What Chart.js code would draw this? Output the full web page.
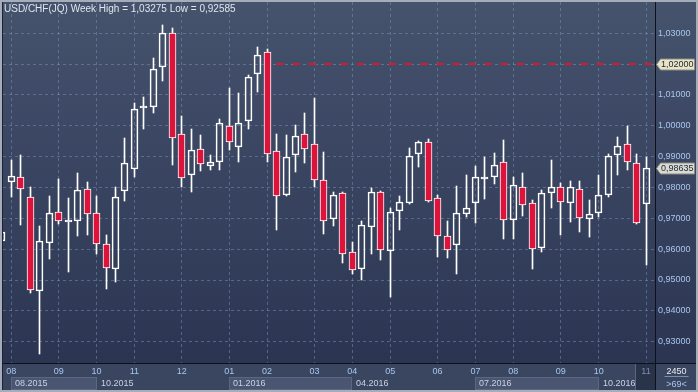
<!DOCTYPE html>
<html>
<head>
<meta charset="utf-8">
<script src="https://cdn.jsdelivr.net/npm/chart.js@4.4.0/dist/chart.umd.min.js"></script>
<style>
  html, body { margin: 0; padding: 0; background: #3a4560; overflow: hidden; }
  canvas { display: block; }
</style>
</head>
<body>
<canvas id="usdchf" width="698" height="392"></canvas>
<script>
// USD/CHF weekly candles, Aug 2015 - Nov 2016
const opens = [0.9625, 0.9818, 0.9835, 0.9770, 0.9464, 0.9620, 0.9722, 0.9689, 0.9692, 0.9796,
  0.9718, 0.9617, 0.9535, 0.9788, 0.9861, 1.0059, 1.0060, 1.0190, 1.0300, 0.9974,
  0.9842, 0.9926, 0.9871, 0.9884, 1.0000, 0.9932, 1.0016, 1.0168, 1.0239, 0.9919,
  0.9776, 0.9905, 0.9974, 0.9942, 0.9825, 0.9698, 0.9783, 0.9590, 0.9537, 0.9672,
  0.9786, 0.9593, 0.9724, 0.9750, 0.9909, 0.9949, 0.9767, 0.9643, 0.9615, 0.9714,
  0.9750, 0.9826, 0.9834, 0.9884, 0.9695, 0.9802, 0.9750, 0.9605, 0.9782, 0.9802,
  0.9749, 0.9796, 0.9698, 0.9717, 0.9776, 0.9905, 0.9942, 0.9880, 0.9746];
const highs = [0.9672, 0.9888, 0.9904, 0.9800, 0.9674, 0.9772, 0.9826, 0.9765, 0.9846, 0.9818,
  0.9772, 0.9647, 0.9803, 0.9959, 1.0075, 1.0095, 1.0220, 1.03275, 1.0317, 1.0033,
  0.9991, 0.9969, 0.9904, 1.0021, 1.0124, 1.0108, 1.0166, 1.0256, 1.0248, 0.9972,
  0.9969, 1.0004, 1.0040, 1.0091, 0.9914, 0.9787, 0.9787, 0.9624, 0.9690, 0.9797,
  0.9788, 0.9733, 0.9774, 0.9927, 0.9950, 0.9956, 0.9777, 0.9690, 0.9806, 0.9839,
  0.9869, 0.9898, 0.9911, 0.9953, 0.9833, 0.9846, 0.9761, 0.9793, 0.9888, 0.9813,
  0.9820, 0.9820, 0.9761, 0.9842, 0.9910, 0.9963, 0.9998, 0.9908, 0.9898];
const lows = [0.9610, 0.9769, 0.9678, 0.9459, 0.92585, 0.9567, 0.9683, 0.9526, 0.9642, 0.9645,
  0.9583, 0.9472, 0.9492, 0.9756, 0.9834, 0.9989, 1.0041, 1.0144, 0.9873, 0.9801,
  0.9785, 0.9853, 0.9857, 0.9857, 0.9922, 0.9883, 0.9989, 1.0109, 0.9883, 0.9663,
  0.9772, 0.9849, 0.9878, 0.9800, 0.9648, 0.9674, 0.9554, 0.9519, 0.9500, 0.9583,
  0.9566, 0.9445, 0.9661, 0.9745, 0.9868, 0.9752, 0.9575, 0.9570, 0.9518, 0.9704,
  0.9684, 0.9764, 0.9811, 0.9632, 0.9632, 0.9707, 0.9536, 0.9591, 0.9735, 0.9647,
  0.9688, 0.9657, 0.9638, 0.9703, 0.9769, 0.9841, 0.9857, 0.9682, 0.9550];
const closes = [0.9657, 0.9838, 0.9796, 0.9467, 0.9626, 0.9718, 0.9690, 0.9691, 0.9793, 0.9715,
  0.9617, 0.9539, 0.9770, 0.9880, 1.0055, 1.0061, 1.0184, 1.0300, 0.9961, 0.9831,
  0.9923, 0.9877, 0.9884, 1.0010, 0.9947, 1.0010, 1.0158, 1.0229, 0.9910, 0.9774,
  0.9900, 0.9968, 0.9925, 0.9824, 0.9691, 0.9776, 0.9583, 0.9531, 0.9679, 0.9786,
  0.9597, 0.9722, 0.9754, 0.9903, 0.9946, 0.9756, 0.9642, 0.9597, 0.9718, 0.9735,
  0.9835, 0.9828, 0.9874, 0.9695, 0.9809, 0.9744, 0.9602, 0.9783, 0.9802, 0.9752,
  0.9802, 0.9701, 0.9715, 0.9776, 0.9903, 0.9936, 0.9884, 0.9685, 0.98635];

// month ticks sit on the first weekly bar of each month
const monthTicks = [1, 6, 10, 14, 19, 24, 28, 33, 37, 41, 46, 50, 54, 59, 63, 68];
const monthLabels = ['08', '09', '10', '11', '12', '01', '02', '03', '04', '05', '06', '07', '08', '09', '10', '11'];
const periodStarts = [1, 10, 24, 37, 50, 63];
const periodLabels = ['08.2015', '10.2015', '01.2016', '04.2016', '07.2016', '10.2016'];
const priceTicks = [0.93, 0.94, 0.95, 0.96, 0.97, 0.98, 0.99, 1.00, 1.01, 1.02, 1.03];

const ALERT_LEVEL = 1.02;
const ALERT_FROM = 29.05;
const LAST_PRICE = 0.98635;
const TITLE = 'USD/CHF(JQ) Week High = 1,03275 Low = 0,92585';
const BAR_COUNTER = '2450';

const RED = '#dc143c';
const WHITE = '#ffffff';
const GRID = 'rgba(125,145,185,0.5)';
const AXIS_BG = '#3a4560';
const BOX_BG = '#4a5671';
const AXIS_TEXT = '#a9c6ee';
const FONT = '"Liberation Sans", Arial, sans-serif';

const fmt = (v) => v.toFixed(5).replace('.', ',');

const idx = opens.map((_, i) => i);
const bodies = idx.map((i) => ({ x: i, y: [opens[i], closes[i]] }));
const upperWicks = idx.map((i) => ({ x: i, y: [Math.max(opens[i], closes[i]), highs[i]] }));
const lowerWicks = idx.map((i) => ({ x: i, y: [lows[i], Math.min(opens[i], closes[i])] }));

// backgrounds: gradient panel, axis strip, period boxes
const backdrop = {
  id: 'backdrop',
  beforeDraw(chart) {
    const { ctx, chartArea: a, scales: { x } } = chart;
    const W = chart.width, H = chart.height;
    ctx.save();
    const g = ctx.createLinearGradient(0, a.top, 0, a.bottom);
    g.addColorStop(0, '#46536d');
    g.addColorStop(1, '#2b3552');
    ctx.fillStyle = g;
    ctx.fillRect(0, 0, W, a.bottom);
    ctx.fillStyle = AXIS_BG;
    ctx.fillRect(0, a.bottom, W, H - a.bottom);

    const rowTop = a.bottom + 14;
    const lastEdge = Math.round(x.getPixelForValue(monthTicks[monthTicks.length - 1])) - 10;
    periodStarts.forEach((s, i) => {
      const x0 = Math.round(x.getPixelForValue(s));
      const x1 = i < periodStarts.length - 1 ? Math.round(x.getPixelForValue(periodStarts[i + 1])) : lastEdge;
      if (i % 2 === 0) {
        ctx.fillStyle = BOX_BG;
        ctx.fillRect(x0, rowTop, x1 - x0, H - rowTop - 2);
        ctx.strokeStyle = '#5a6782';
        ctx.lineWidth = 1;
        ctx.strokeRect(x0 + 0.5, rowTop + 0.5, x1 - x0 - 1, H - rowTop - 3);
      }
    });
    // current month cell
    ctx.fillStyle = '#29334a';
    ctx.fillRect(lastEdge, a.bottom + 1, a.right - lastEdge, H - a.bottom - 3);
    ctx.fillStyle = '#5a6782';
    ctx.fillRect(lastEdge - 1, a.bottom + 1, 1, H - a.bottom - 3);
    ctx.restore();
  },
};

// put candle edges on whole pixels
const snap = {
  id: 'snap',
  afterDatasetsUpdate(chart) {
    chart.data.datasets.forEach((ds, d) => {
      chart.getDatasetMeta(d).data.forEach((el) => {
        el.x = Math.floor(el.x) + 0.5;
        el.y = Math.round(el.y);
        el.base = Math.round(el.base);
      });
    });
  },
};

function priceTag(ctx, y, text, fill) {
  y = Math.round(y) + 0.5;
  ctx.beginPath();
  ctx.moveTo(656.5, y);
  ctx.lineTo(660.5, y - 5.5);
  ctx.lineTo(694.5, y - 5.5);
  ctx.lineTo(694.5, y + 5.5);
  ctx.lineTo(660.5, y + 5.5);
  ctx.closePath();
  ctx.fillStyle = fill;
  ctx.fill();
  ctx.strokeStyle = '#8d8c7c';
  ctx.lineWidth = 1;
  ctx.stroke();
  ctx.fillStyle = '#222936';
  ctx.font = '9px ' + FONT;
  ctx.textAlign = 'left';
  ctx.textBaseline = 'middle';
  ctx.fillText(text, 661, y + 0.5);
}

// frame, alert line, tags, title and the lower label row
const overlay = {
  id: 'overlay',
  afterDraw(chart) {
    const { ctx, chartArea: a, scales: { x, y } } = chart;
    const W = chart.width, H = chart.height;
    ctx.save();

    // alert level
    const ay = Math.round(y.getPixelForValue(ALERT_LEVEL));
    ctx.strokeStyle = '#d8182e';
    ctx.lineWidth = 2;
    ctx.setLineDash([7, 9]);
    ctx.beginPath();
    ctx.moveTo(x.getPixelForValue(ALERT_FROM), ay);
    ctx.lineTo(a.right, ay);
    ctx.stroke();
    ctx.setLineDash([]);

    // separators
    ctx.fillStyle = '#0d1119';
    ctx.fillRect(2, a.bottom, W - 4, 1);
    ctx.fillRect(a.right, 2, 1, H - 4);

    // outer frame
    ctx.fillStyle = '#a5adbb';
    ctx.fillRect(0, 0, W, 2);
    ctx.fillRect(0, H - 2, W, 2);
    ctx.fillRect(0, 0, 2, H);
    ctx.fillRect(W - 2, 0, 2, H);
    ctx.fillStyle = '#1b2232';
    ctx.fillRect(2, 2, 1, H - 4);

    // tags on the price scale
    priceTag(ctx, y.getPixelForValue(ALERT_LEVEL), fmt(ALERT_LEVEL), '#e8e4c6');
    priceTag(ctx, y.getPixelForValue(LAST_PRICE), fmt(LAST_PRICE), '#d8dad4');

    // title
    ctx.font = '10px ' + FONT;
    ctx.fillStyle = '#e0e5ee';
    ctx.textAlign = 'left';
    ctx.textBaseline = 'alphabetic';
    ctx.fillText(TITLE, 4, 12);

    // period labels
    ctx.font = '9px ' + FONT;
    ctx.fillStyle = '#c9d3e3';
    periodStarts.forEach((s, i) => {
      ctx.fillText(periodLabels[i], Math.round(x.getPixelForValue(s)) + 4, a.bottom + 23);
    });

    // bar counter box
    const cx = (a.right + W) / 2;
    ctx.textAlign = 'center';
    ctx.fillStyle = '#e6ebf3';
    ctx.fillText(BAR_COUNTER, cx, a.bottom + 11);
    ctx.fillStyle = '#7f8ea8';
    ctx.fillRect(cx - 12, a.bottom + 13, 24, 1);
    ctx.fillStyle = AXIS_TEXT;
    ctx.fillText('>' + opens.length + '<', cx, a.bottom + 24);
    ctx.restore();
  },
};

new Chart(document.getElementById('usdchf'), {
  type: 'bar',
  data: {
    datasets: [
      {
        label: 'Body',
        data: bodies,
        backgroundColor: idx.map((i) => (closes[i] < opens[i] ? RED : 'rgba(0,0,0,0)')),
        borderColor: WHITE,
        borderWidth: 1,
        borderSkipped: false,
        barThickness: 7,
        maxBarThickness: 7,
        minBarLength: 2,
      },
      {
        label: 'Upper wick',
        data: upperWicks,
        backgroundColor: WHITE,
        borderWidth: 0,
        barThickness: 1,
        maxBarThickness: 1,
      },
      {
        label: 'Lower wick',
        data: lowerWicks,
        backgroundColor: WHITE,
        borderWidth: 0,
        barThickness: 1,
        maxBarThickness: 1,
      },
    ],
  },
  options: {
    responsive: false,
    animation: false,
    events: [],
    grouped: false,
    layout: { padding: { left: 3, top: 2, right: 0, bottom: 0 } },
    plugins: { legend: { display: false }, tooltip: { enabled: false } },
    scales: {
      x: {
        type: 'linear',
        min: 0.127,
        max: 68.95,
        offset: false,
        grid: { offset: false, color: GRID, drawTicks: false },
        border: { display: false, dash: [3, 3] },
        afterBuildTicks: (scale) => { scale.ticks = monthTicks.map((v) => ({ value: v })); },
        afterFit: (scale) => {
          scale.height = 29;
          scale.paddingLeft = 0;
          scale.paddingRight = 0;
        },
        ticks: {
          autoSkip: false,
          maxRotation: 0,
          padding: 3,
          font: { family: FONT, size: 9 },
          color: (c) => (c.index === monthTicks.length - 1 ? '#7f8eac' : AXIS_TEXT),
          callback: (value, i) => monthLabels[i],
        },
      },
      y: {
        type: 'linear',
        position: 'right',
        min: 0.92309,
        max: 1.04015,
        grid: { color: GRID, drawTicks: false },
        border: { display: false, dash: [3, 3] },
        afterBuildTicks: (scale) => { scale.ticks = priceTicks.map((v) => ({ value: v })); },
        afterFit: (scale) => {
          scale.width = 43;
          scale.paddingTop = 0;
          scale.paddingBottom = 0;
        },
        ticks: {
          padding: 3,
          font: { family: FONT, size: 9 },
          color: AXIS_TEXT,
          callback: (v) => fmt(v),
        },
      },
    },
  },
  plugins: [backdrop, snap, overlay],
});
</script>
</body>
</html>
